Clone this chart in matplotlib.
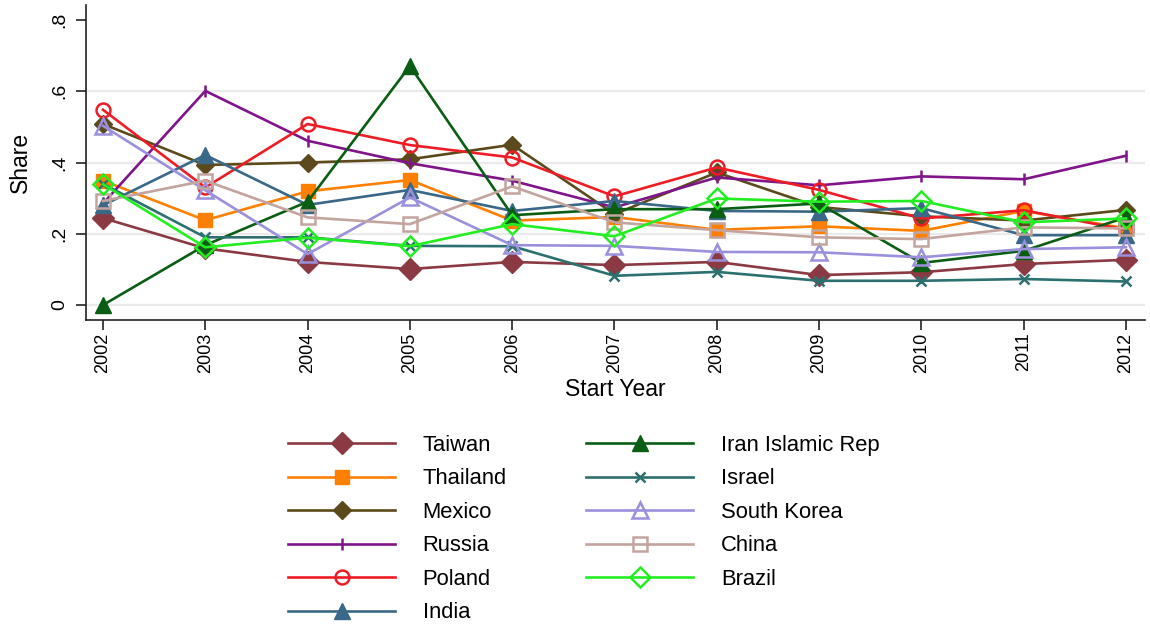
import numpy as np
import matplotlib as mpl
import matplotlib.pyplot as plt

mpl.use("agg")

years = [2002, 2003, 2004, 2005, 2006, 2007, 2008, 2009, 2010, 2011, 2012]

taiwan = [0.244, 0.159, 0.121, 0.101, 0.121, 0.112, 0.121, 0.084, 0.092, 0.115, 0.127]
thailand = [0.349, 0.238, 0.319, 0.351, 0.237, 0.247, 0.211, 0.221, 0.208, 0.264, 0.215]
mexico = [0.508, 0.393, 0.400, 0.409, 0.450, 0.255, 0.372, 0.275, 0.249, 0.237, 0.267]
russia = [0.285, 0.601, 0.461, 0.398, 0.349, 0.274, 0.358, 0.336, 0.361, 0.353, 0.419]
poland = [0.548, 0.330, 0.508, 0.449, 0.414, 0.305, 0.386, 0.323, 0.243, 0.266, 0.211]
india = [0.280, 0.421, 0.281, 0.323, 0.264, 0.292, 0.264, 0.262, 0.272, 0.196, 0.196]
iran = [0.000, 0.168, 0.290, 0.671, 0.252, 0.269, 0.269, 0.285, 0.118, 0.152, 0.246]
israel = [0.340, 0.190, 0.190, 0.166, 0.165, 0.082, 0.093, 0.068, 0.068, 0.073, 0.066]
south_korea = [0.503, 0.322, 0.143, 0.302, 0.168, 0.166, 0.149, 0.148, 0.134, 0.157, 0.162]
china = [0.292, 0.349, 0.246, 0.227, 0.333, 0.232, 0.210, 0.190, 0.185, 0.218, 0.215]
brazil = [0.339, 0.162, 0.189, 0.165, 0.227, 0.193, 0.299, 0.290, 0.292, 0.232, 0.243]

y_ticks = [0, 0.2, 0.4, 0.6, 0.8]
y_tick_labels = ["0", ".2", ".4", ".6", ".8"]

# name, values, colour, marker, marker size, filled
series = [
    ("Taiwan", taiwan, "#8b3a44", "D", 11, True),
    ("Thailand", thailand, "#ff8000", "s", 10, True),
    ("Mexico", mexico, "#5c4a1c", "D", 9, True),
    ("Russia", russia, "#80148a", "|", 9, True),
    ("Poland", poland, "#ee1c24", "o", 10, False),
    ("India", india, "#3a6888", "^", 11, True),
    ("Iran Islamic Rep", iran, "#0a5e14", "^", 11, True),
    ("Israel", israel, "#2c7070", "x", 7, True),
    ("South Korea", south_korea, "#9a90dc", "^", 11, False),
    ("China", china, "#c4a49e", "s", 10, False),
    ("Brazil", brazil, "#22ee22", "D", 10, False),
]

plt.rcParams["font.family"] = ["Liberation Sans", "DejaVu Sans"]

fig = plt.figure(figsize=(11.5, 6.26), dpi=100)
ax = fig.add_axes([86 / 1150, 1 - 320 / 626, (1145 - 86) / 1150, (320 - 5) / 626])

for y in [0, 0.2, 0.4, 0.6]:
    ax.axhline(y, color="#eaeaea", lw=1.6, zorder=0)

for name, vals, col, mk, ms, filled in series:
    ax.plot(
        years, vals, color=col, lw=1.9, marker=mk, markersize=ms,
        markerfacecolor=col if filled else "none", markeredgecolor=col,
        markeredgewidth=1.8 if not filled or mk in "x|" else 1.0,
        label=name,
    )

ax.set_xlim(2002 - 17 / 102.3, 2012 + 19 / 102.3)
ax.set_ylim(-15 / 356.6, 0.8 + 15 / 356.6)
ax.set_xticks(years)
ax.set_xticklabels([str(y) for y in years], rotation=90, fontsize=13)
ax.set_yticks(y_ticks)
ax.set_yticklabels(y_tick_labels, rotation=90, va="center", fontsize=14)
ax.tick_params(axis="both", length=7, width=1.2, color="#222222")
ax.tick_params(axis="x", pad=2)
ax.tick_params(axis="y", pad=6)

for side in ["top", "right"]:
    ax.spines[side].set_visible(False)
for side in ["left", "bottom"]:
    ax.spines[side].set_color("#222222")
    ax.spines[side].set_linewidth(1.2)

ax.set_xlabel("Start Year", fontsize=16.5, labelpad=4)
ax.set_ylabel("Share", fontsize=16.5, labelpad=14)

handles, labels = ax.get_legend_handles_labels()
fig.legend(
    handles, labels, ncol=2, loc="upper left",
    bbox_to_anchor=(268 / 1150, 1 - 415 / 626),
    frameon=False, fontsize=15.8, handlelength=4.9, handletextpad=1.25,
    columnspacing=3.6, labelspacing=0.57,
)

fig.savefig("out.png", dpi=100)
